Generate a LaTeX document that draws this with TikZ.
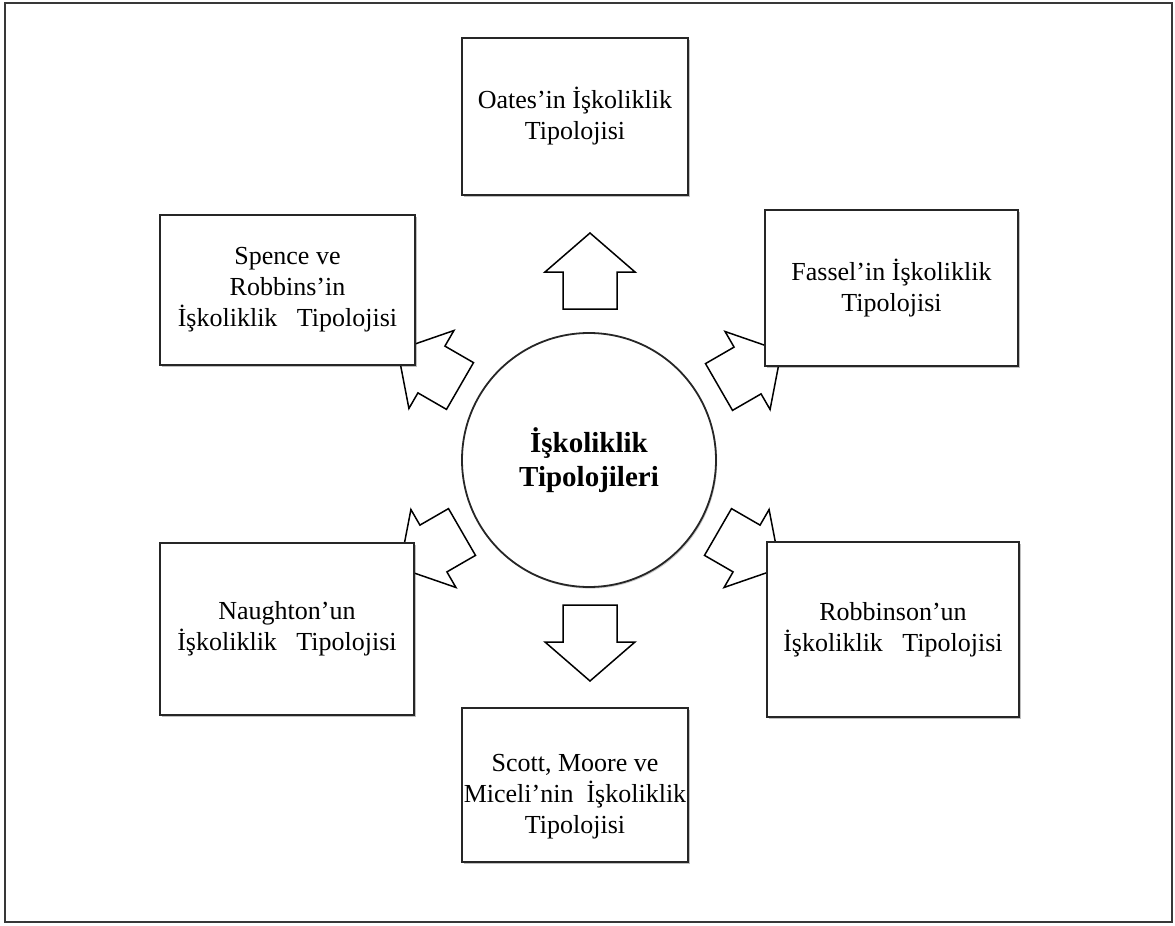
\documentclass[tikz,border=0pt]{standalone}
\usepackage{fontspec}
\setmainfont{Liberation Serif}
\usetikzlibrary{shadows}
\newcommand{\wgap}{\hspace{0.75em}}
\begin{document}
\begin{tikzpicture}[x=0.5pt,y=-0.5pt,
  frame/.style={draw=black!78, line width=1.2pt},
  typbox/.style={draw=black!85, line width=0.9pt, fill=white, align=center,
    inner sep=0pt, font=\fontsize{13}{15.5}\selectfont,
    drop shadow={shadow xshift=0.8pt, shadow yshift=-0.8pt, opacity=0.25, fill=black}},
  boxtext/.style={align=center, inner sep=0pt, font=\fontsize{13}{15.5}\selectfont},
  hub/.style={circle, draw=black!85, line width=0.9pt, fill=white, align=center,
    minimum size=127pt, inner sep=0pt, font=\fontsize{14.5}{17}\selectfont\bfseries,
    drop shadow={shadow xshift=0.6pt, shadow yshift=-0.8pt, opacity=0.2, fill=black}},
  arrowline/.style={draw=black, line width=0.75pt, fill=white, line join=miter},
  blockarr/.pic={\draw[arrowline] (0,-27) -- (#1,-27) -- (#1,-45) -- ({#1+39},0)
    -- (#1,45) -- (#1,27) -- (0,27) -- cycle;}
]
\useasboundingbox (0,0) rectangle (1175,926);
\draw[frame] (5,3) rectangle (1172,922);

% block arrows pointing out from the hub
\pic[rotate=90]  at (590,309) {blockarr=37};
\pic[rotate=-90] at (590,605) {blockarr=37};
\pic[rotate=150] at (460,386) {blockarr=33};
\pic[rotate=30]  at (719,387) {blockarr=33};
\pic[rotate=210] at (462,532) {blockarr=33};
\pic[rotate=-30] at (718,532) {blockarr=33};

% central circle
\node[hub] (hub) at (589,460) {İşkoliklik\\Tipolojileri};

% typology boxes
\node[typbox, minimum width=113pt, minimum height=78.5pt] (oates) at (575,116.5)
  {Oates’in İşkoliklik\\Tipolojisi};
\node[typbox, minimum width=127.5pt, minimum height=75pt] (spence) at (287.5,290)
  {Spence ve\\Robbins’in\\İşkoliklik\wgap Tipolojisi};
\node[typbox, minimum width=126.5pt, minimum height=78pt] (fassel) at (891.5,288)
  {Fassel’in İşkoliklik\\Tipolojisi};
\node[typbox, minimum width=127pt, minimum height=86pt] (naughton) at (287,629)
  {Naughton’un\\İşkoliklik\wgap Tipolojisi};
\node[typbox, minimum width=126pt, minimum height=87.5pt] (robbinson) at (893,629.5)
  {Robbinson’un\\İşkoliklik\wgap Tipolojisi};
\node[typbox, minimum width=113pt, minimum height=77pt] (scott) at (575,785) {};
\node[boxtext] (scott-text) at (575,797)
  {Scott, Moore ve\\Miceli’nin\ \ İşkoliklik\\Tipolojisi};
\end{tikzpicture}
\end{document}
